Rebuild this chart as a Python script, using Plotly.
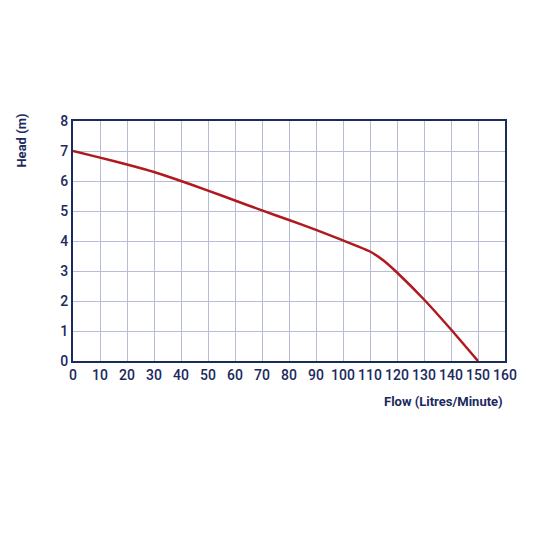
import plotly.graph_objects as go

flow = [0, 10, 20, 30, 40, 50, 60, 70, 80, 90, 100, 110, 115, 120, 130, 140, 150]
head = [7.0, 6.78, 6.55, 6.3, 6.0, 5.68, 5.35, 5.02, 4.7, 4.37, 4.02, 3.65, 3.35, 2.95, 2.05, 1.05, 0.0]
x_ticks = list(range(0, 161, 10))
y_ticks = list(range(0, 9))

navy = "#1c2a5e"
fig = go.Figure(go.Scatter(x=flow, y=head, mode="lines", line=dict(color="#b0191e", width=2.5, shape="spline", smoothing=0.5)))
fig.update_layout(
    width=533, height=533, paper_bgcolor="white", plot_bgcolor="white",
    margin=dict(l=65, r=36, t=113, b=180), showlegend=False,
    font=dict(family="Roboto", color=navy, size=14),
)
ax = dict(showline=True, mirror=True, linecolor=navy, linewidth=2, gridcolor="#b5bcd4", gridwidth=1,
          zeroline=False, ticks="", tickfont=dict(size=14, color=navy, family="Roboto Medium, Roboto"))
fig.update_xaxes(range=[0, 160], tickvals=x_ticks, **ax)
fig.update_yaxes(range=[0, 8], tickvals=y_ticks, **ax)
fig.add_annotation(text="<b>Flow (Litres/Minute)</b>", xref="paper", yref="paper", x=1, y=-0.13,
                   xanchor="right", yanchor="top", showarrow=False, font=dict(size=13, color=navy))
fig.add_annotation(text="<b>Head (m)</b>", xref="paper", yref="paper", x=-0.12, y=1.04,
                   xanchor="center", yanchor="top", textangle=-90, showarrow=False, font=dict(size=13, color=navy))
fig.write_html("out.html")
